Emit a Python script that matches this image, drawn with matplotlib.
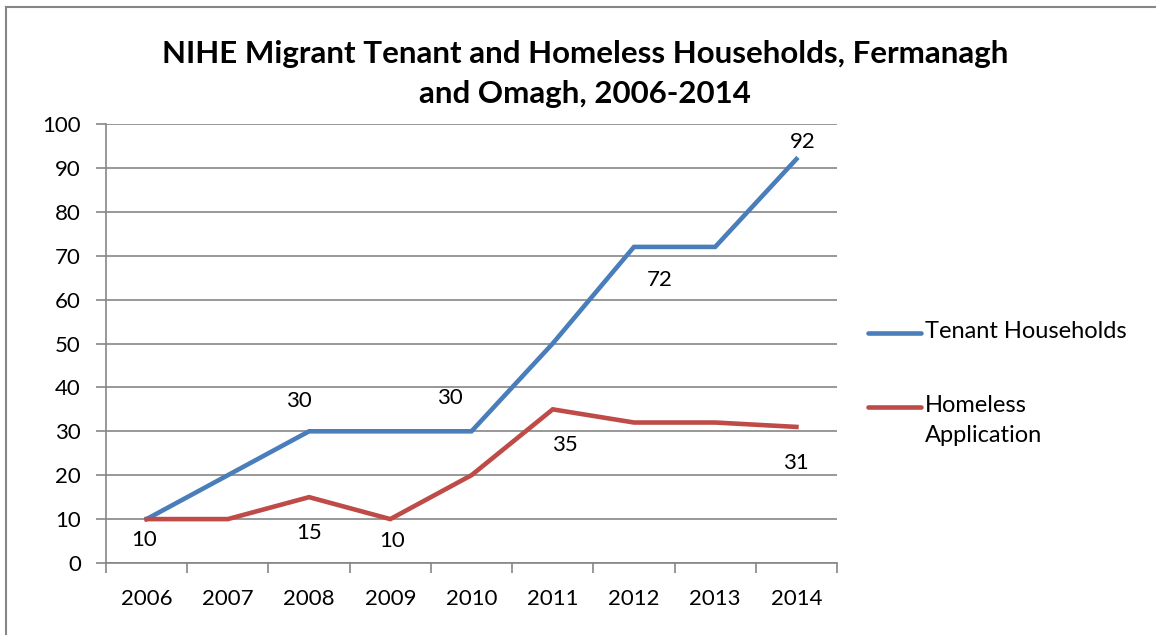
import matplotlib
matplotlib.use('Agg')
import matplotlib.pyplot as plt
from matplotlib.lines import Line2D

plt.rcParams['font.family'] = ['Lato', 'DejaVu Sans']

years = ['2006', '2007', '2008', '2009', '2010', '2011', '2012', '2013', '2014']
tenant = [10, 20, 30, 30, 30, 50, 72, 72, 92]
homeless = [10, 10, 15, 10, 20, 35, 32, 32, 31]
series_names = ['Tenant Households', 'Homeless\nApplication']

# which points carry a value label, and where it sits (offset in pixels)
tenant_labels = {2: (-10, 30), 4: (-22, 33), 6: (26, -33), 8: (6, 17)}
homeless_labels = {0: (-3, -21), 2: (0, -36), 3: (2, -22), 5: (12, -36), 8: (0, -36)}

blue = '#4A7EBB'
red = '#BE4B48'
grey = '#868686'
W, H = 1156, 635

fig = plt.figure(figsize=(W/100, H/100), dpi=100)
ax = fig.add_axes([106/W, 1-563/H, (837-106)/W, (563-124)/H])

x = [i + 0.5 for i in range(len(years))]
ax.plot(x, tenant, color=blue, lw=3.3, solid_joinstyle='miter', zorder=3)
ax.plot(x, homeless, color=red, lw=3.3, solid_joinstyle='miter', zorder=3)

for i, off in tenant_labels.items():
    ax.annotate(str(tenant[i]), (x[i], tenant[i]), xytext=off, textcoords='offset pixels',
                ha='center', va='center', fontsize=16)
for i, off in homeless_labels.items():
    ax.annotate(str(homeless[i]), (x[i], homeless[i]), xytext=off, textcoords='offset pixels',
                ha='center', va='center', fontsize=16)

ax.set_xlim(0, len(years))
ax.set_ylim(0, 100)
ax.set_yticks(range(0, 101, 10))
ax.set_xticks(x)
ax.set_xticklabels(years)
ax.set_xticks(range(len(years) + 1), minor=True)
ax.tick_params(axis='x', which='major', length=0, pad=19, labelsize=16)
ax.tick_params(axis='x', which='minor', length=7, width=1.2, color=grey, direction='out')
ax.tick_params(axis='y', length=7, width=1.2, color=grey, pad=11, labelsize=16)
ax.grid(axis='y', color=grey, lw=1.2)
ax.set_axisbelow(True)
for s in ['top', 'right']:
    ax.spines[s].set_visible(False)
for s in ['left', 'bottom']:
    ax.spines[s].set_color(grey)
    ax.spines[s].set_linewidth(1.2)

fig.text(585/W, 1-74/H, 'NIHE Migrant Tenant and Homeless Households, Fermanagh\nand Omagh, 2006-2014',
         ha='center', va='center', fontsize=22.5, fontweight='bold', linespacing=1.55)

# legend drawn by hand so the red key sits on the first text line, as in Excel
for name, col, ly in zip(series_names, [blue, red], [333, 407]):
    fig.add_artist(Line2D([868/W, 921/W], [1-ly/H, 1-ly/H], color=col, lw=3.3,
                          solid_capstyle='round'))
    fig.text(925/W, 1-(ly-12)/H, name, ha='left', va='top', fontsize=17, linespacing=1.55)

# chart frame: top and left edges only are visible in the crop
fig.add_artist(Line2D([6/W, 1], [1-7/H, 1-7/H], color=grey, lw=1.5))
fig.add_artist(Line2D([6/W, 6/W], [0, 1-7/H], color=grey, lw=1.5))

fig.savefig('out.png', dpi=100)
